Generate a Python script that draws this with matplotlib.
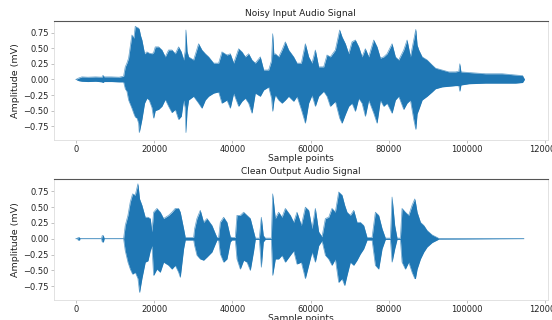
import matplotlib
matplotlib.use("Agg")
from matplotlib import pyplot as plt

# envelope of the noisy recording (sample index, upper, lower)
noisy_x = [0, 600, 1500, 3000, 5000, 6600, 6900, 7200, 9000, 11000, 12160, 12585,
           13010, 13440, 14290, 14800, 15140, 15600, 16000, 16170, 16500, 16850,
           17530, 18130, 18700, 19410, 19840, 20260, 21120, 21970, 22820, 23670,
           24530, 25380, 26230, 26920, 27510, 27900, 28110, 28400, 28790, 30070,
           31350, 32200, 33060, 33910, 35190, 36470, 37320, 38600, 39450, 40310,
           41590, 42440, 43290, 44150, 45000, 45850, 47130, 47990, 49260, 50000,
           50290, 50600, 50970, 51820, 52680, 53530, 54380, 55660, 56510, 57620,
           58650, 59500, 60350, 61210, 62060, 63340, 64190, 65040, 66320, 67430,
           68030, 68880, 69740, 70590, 71440, 72300, 73150, 74000, 74850, 76140,
           76990, 77840, 78690, 79550, 80830, 81680, 82530, 83810, 84670, 85520,
           86370, 86900, 87240, 87670, 88520, 89800, 91080, 91930, 93640, 95340,
           97050, 97900, 98160, 98450, 100460, 104730, 108990, 112400, 114200, 114700]
noisy_hi = [0.0, 0.02, 0.04, 0.035, 0.04, 0.035, 0.065, 0.04, 0.04, 0.035, 0.05, 0.2,
            0.26, 0.34, 0.71, 0.66, 0.85, 0.83, 0.82, 0.8, 0.7, 0.63,
            0.41, 0.44, 0.42, 0.41, 0.43, 0.52, 0.52, 0.47, 0.36, 0.47,
            0.47, 0.41, 0.52, 0.44, 0.31, 0.45, 0.79, 0.45, 0.36, 0.31,
            0.57, 0.47, 0.41, 0.36, 0.26, 0.26, 0.44, 0.39, 0.41, 0.26,
            0.49, 0.44, 0.36, 0.41, 0.31, 0.26, 0.36, 0.15, 0.15, 0.3,
            0.73, 0.4, 0.41, 0.36, 0.47, 0.6, 0.47, 0.36, 0.26, 0.26,
            0.57, 0.36, 0.26, 0.47, 0.2, 0.2, 0.39, 0.36, 0.47, 0.79,
            0.68, 0.57, 0.41, 0.6, 0.63, 0.52, 0.36, 0.49, 0.36, 0.63,
            0.52, 0.34, 0.36, 0.41, 0.57, 0.36, 0.31, 0.47, 0.63, 0.36,
            0.63, 0.8, 0.55, 0.47, 0.36, 0.31, 0.23, 0.18, 0.15, 0.12,
            0.12, 0.13, 0.25, 0.12, 0.11, 0.09, 0.09, 0.07, 0.06, 0.0]
noisy_lo = [0.0, -0.02, -0.03, -0.035, -0.03, -0.04, -0.05, -0.035, -0.035, -0.04, -0.04, -0.15,
            -0.19, -0.33, -0.46, -0.55, -0.6, -0.62, -0.7, -0.85, -0.75, -0.64,
            -0.38, -0.3, -0.33, -0.45, -0.62, -0.5, -0.48, -0.43, -0.32, -0.43,
            -0.53, -0.48, -0.64, -0.59, -0.33, -0.45, -0.85, -0.5, -0.33, -0.27,
            -0.38, -0.46, -0.33, -0.27, -0.22, -0.2, -0.38, -0.33, -0.46, -0.22,
            -0.43, -0.35, -0.3, -0.38, -0.54, -0.22, -0.27, -0.17, -0.12, -0.3,
            -0.51, -0.35, -0.25, -0.33, -0.38, -0.33, -0.27, -0.35, -0.27, -0.48,
            -0.7, -0.38, -0.25, -0.43, -0.27, -0.19, -0.27, -0.43, -0.35, -0.62,
            -0.7, -0.56, -0.43, -0.38, -0.51, -0.3, -0.38, -0.59, -0.33, -0.54,
            -0.7, -0.33, -0.43, -0.38, -0.54, -0.33, -0.27, -0.48, -0.38, -0.33,
            -0.64, -0.8, -0.55, -0.48, -0.33, -0.27, -0.2, -0.15, -0.12, -0.11,
            -0.1, -0.1, -0.19, -0.09, -0.07, -0.06, -0.06, -0.06, -0.05, 0.0]

# envelope of the denoised output
clean_x = [0, 400, 500, 900, 1000, 6500, 6700, 7000, 7200, 12160, 12585, 13270,
           13865, 14460, 15140, 15830, 16250, 16850, 17700, 18390, 18980, 19410,
           19840, 20690, 21540, 22390, 23670, 24530, 25380, 26230, 26660, 27510,
           27940, 30070, 30330, 30920, 31780, 32630, 33480, 34760, 35620, 36040,
           36470, 36900, 37750, 38600, 39450, 39880, 40730, 41160, 42010, 42870,
           43720, 44570, 45430, 45850, 46880, 47390, 47900, 48410, 49950, 50290,
           50970, 51820, 52680, 53530, 54810, 55660, 56510, 57620, 58650, 59500,
           60350, 61210, 62060, 62910, 63770, 64620, 65470, 66320, 67180, 68030,
           68710, 69310, 70160, 71020, 71870, 72720, 73570, 74430, 75710, 76560,
           77410, 78270, 79120, 80400, 80830, 81510, 82110, 82960, 83380, 84240,
           85090, 85940, 86630, 86810, 87240, 88090, 88950, 89800, 91080, 92360,
           92780, 114530]
clean_hi = [0.0, 0.0, 0.02, 0.02, 0.0, 0.0, 0.05, 0.05, 0.0, 0.0, 0.21, 0.37,
            0.58, 0.71, 0.69, 0.87, 0.63, 0.53, 0.34, 0.34, 0.32, 0.11,
            0.42, 0.48, 0.42, 0.32, 0.37, 0.42, 0.48, 0.48, 0.42, 0.16,
            0.02, 0.02, 0.16, 0.32, 0.45, 0.26, 0.32, 0.21, 0.08, 0.02,
            0.02, 0.26, 0.34, 0.26, 0.03, 0.02, 0.02, 0.37, 0.37, 0.42,
            0.37, 0.32, 0.11, 0.01, 0.01, 0.34, 0.05, 0.01, 0.01, 0.71,
            0.32, 0.42, 0.34, 0.48, 0.37, 0.26, 0.42, 0.21, 0.5, 0.45,
            0.16, 0.48, 0.11, 0.03, 0.32, 0.34, 0.48, 0.42, 0.74, 0.69,
            0.53, 0.42, 0.37, 0.45, 0.26, 0.26, 0.21, 0.02, 0.02, 0.42,
            0.37, 0.16, 0.01, 0.01, 0.66, 0.21, 0.01, 0.01, 0.48, 0.42,
            0.37, 0.53, 0.63, 0.58, 0.42, 0.26, 0.21, 0.13, 0.06, 0.02,
            0.005, 0.0]
clean_lo = [0.0, 0.0, -0.02, -0.02, 0.0, 0.0, -0.05, -0.05, 0.0, 0.0, -0.19, -0.37,
            -0.48, -0.56, -0.53, -0.63, -0.85, -0.63, -0.37, -0.35, -0.19, -0.11,
            -0.58, -0.48, -0.53, -0.37, -0.42, -0.48, -0.42, -0.53, -0.61, -0.16,
            -0.02, -0.02, -0.11, -0.26, -0.32, -0.34, -0.29, -0.21, -0.08, -0.02,
            -0.02, -0.24, -0.37, -0.32, -0.05, -0.02, -0.02, -0.32, -0.48, -0.34,
            -0.37, -0.5, -0.19, -0.01, -0.01, -0.45, -0.05, -0.01, -0.01, -0.58,
            -0.32, -0.32, -0.26, -0.37, -0.26, -0.19, -0.4, -0.37, -0.63, -0.42,
            -0.21, -0.37, -0.11, -0.03, -0.26, -0.32, -0.42, -0.32, -0.69, -0.63,
            -0.74, -0.58, -0.37, -0.42, -0.34, -0.24, -0.16, -0.02, -0.02, -0.42,
            -0.48, -0.16, -0.01, -0.01, -0.37, -0.16, -0.01, -0.01, -0.37, -0.48,
            -0.37, -0.53, -0.63, -0.63, -0.48, -0.32, -0.21, -0.13, -0.06, -0.02,
            -0.005, 0.0]

titles = ['Noisy Input Audio Signal', 'Clean Output Audio Signal']
yticks = [-0.75, -0.5, -0.25, 0.0, 0.25, 0.5, 0.75]
ytick_labels = ['\u22120.75', '\u22120.50', '\u22120.25', '0.00', '0.25', '0.50', '0.75']
xticks = [0, 20000, 40000, 60000, 80000, 100000, 120000]

blue = '#1f77b4'

fig = plt.figure(figsize=(5.52, 3.2), dpi=100)
ax_top = fig.add_axes([0.097, 0.5625, 0.896, 0.373])
ax_bot = fig.add_axes([0.097, 0.0625, 0.896, 0.377])

for ax, x, hi, lo, title in [(ax_top, noisy_x, noisy_hi, noisy_lo, titles[0]),
                             (ax_bot, clean_x, clean_hi, clean_lo, titles[1])]:
    ax.fill_between(x, lo, hi, color=blue, lw=0)
    # thin outline gives the zero line in the silent parts
    ax.plot(x, hi, color=blue, lw=0.5, alpha=0.7)
    ax.plot(x, lo, color=blue, lw=0.5, alpha=0.7)
    ax.set_xlim(-5750, 120750)
    ax.set_ylim(-0.97, 0.94)
    ax.set_xticks(xticks)
    ax.set_yticks(yticks)
    ax.set_yticklabels(ytick_labels)
    ax.tick_params(labelsize=6, length=2, width=0.5, pad=1.5, colors='#aaaaaa', labelcolor='#222222')
    ax.set_title(title, fontsize=6.5, pad=3.5, color='#222222')
    ax.set_xlabel('Sample points', fontsize=6.6, labelpad=0.3, color='#222222')
    ax.set_ylabel('Amplitude (mV)', fontsize=6.8, labelpad=2, color='#222222')
    for side in ['left', 'right', 'bottom']:
        ax.spines[side].set_color('#dddddd')
        ax.spines[side].set_linewidth(0.6)
    ax.spines['top'].set_color('#555555')
    ax.spines['top'].set_linewidth(0.8)

fig.savefig('out.png', dpi=100)
